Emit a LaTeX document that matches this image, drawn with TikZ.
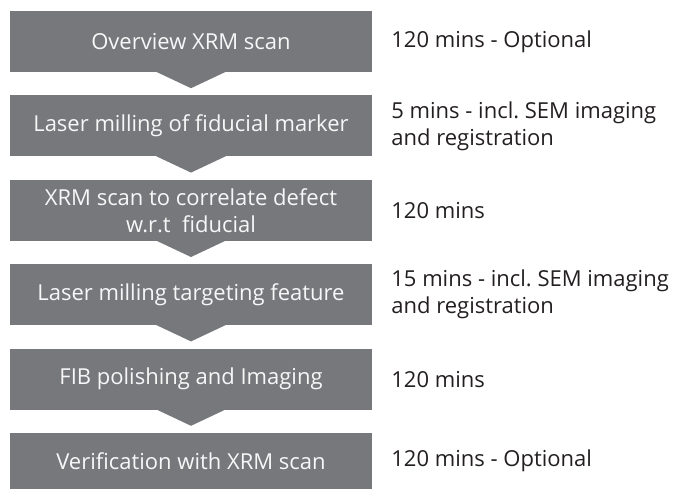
\documentclass[tikz,border=0pt]{standalone}
\usepackage{fontspec}
\setmainfont{Open Sans}
\usetikzlibrary{positioning}
\definecolor{stepgray}{RGB}{119,120,124}
\definecolor{notetext}{RGB}{35,31,32}

\begin{document}
\begin{tikzpicture}[x=1pt, y=-1pt,
    stepbox/.style={fill=stepgray, text=white!94!gray, minimum width=362pt, minimum height=61pt,
      inner sep=0pt, align=center, font=\fontsize{22}{27}\selectfont},
    note/.style={inner sep=0pt, align=left, text=notetext, font=\fontsize{22}{27}\selectfont},
    tip/.style={fill=stepgray}]
  \useasboundingbox (0,0) rectangle (673,488);

  % --- 流程步骤 ---
  \node[stepbox] (b1) at (191,41.5) {Overview XRM scan};
  \node[stepbox, below=23pt of b1] (b2) {Laser milling of fiducial marker};
  \node[stepbox, below=23pt of b2] (b3) {XRM scan to correlate defect\\ w.r.t\ \ fiducial};
  \node[stepbox, below=23pt of b3] (b4) {Laser milling targeting feature};
  \node[stepbox, below=23pt of b4] (b5) {FIB polishing and Imaging};
  \node[stepbox, below=23pt of b5, minimum height=56pt] (b6) {Verification with XRM scan};

  % 向下的箭头
  \foreach \s in {b1,b2,b3,b4,b5}
    \fill[tip, shift={(\s.south)}] (-35,-0.5) -- (0,16) -- (35,-0.5) -- cycle;

  % --- 所需时间 ---
  \node[note, right=19pt of b1] (n1) {120 mins - Optional};
  \node[note, right=19pt of b2] (n2) {5 mins - incl.\ SEM imaging\\and registration};
  \node[note, right=19pt of b3] (n3) {120 mins};
  \node[note, right=19pt of b4] (n4) {15 mins - incl.\ SEM imaging\\and registration};
  \node[note, right=19pt of b5] (n5) {120 mins};
  \node[note, right=19pt of b6] (n6) {120 mins - Optional};
\end{tikzpicture}
\end{document}
